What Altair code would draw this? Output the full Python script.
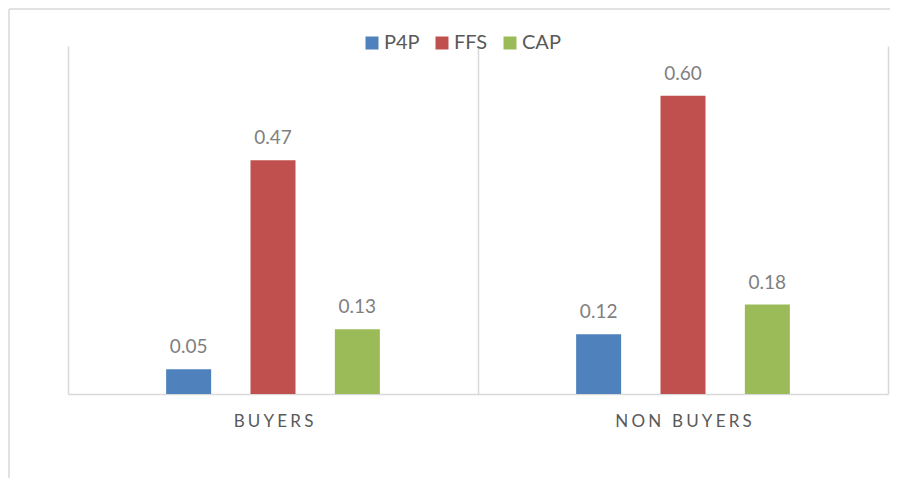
import altair as alt
import pandas as pd

categories = ["BUYERS", "NON BUYERS"]
series = ["P4P", "FFS", "CAP"]
p4p = [0.05, 0.12]
ffs = [0.47, 0.60]
cap = [0.13, 0.18]
colors = ["#4F81BD", "#C0504D", "#9BBB59"]

rows = []
for i, c in enumerate(categories):
    for s, vals in zip(series, [p4p, ffs, cap]):
        rows.append({"group": c, "series": s, "value": vals[i]})
df = pd.DataFrame(rows)

W, H = 820, 348
FONT = "Lato"

base = alt.Chart(df).encode(
    x=alt.X("group:N", sort=categories, title=None,
            scale=alt.Scale(paddingInner=0, paddingOuter=0),
            axis=alt.Axis(grid=True, tickBand="extent", ticks=False, labelAngle=0,
                          domainColor="#d9d9d9", domainWidth=1.5,
                          gridColor="#d9d9d9", gridWidth=1.5,
                          labelFont=FONT, labelFontSize=17, labelColor="#595959",
                          labelPadding=19,
                          labelExpr="join(split(datum.label, ''), '\u2009\u200a')")),
    xOffset=alt.XOffset("series:N", sort=series,
                        scale=alt.Scale(paddingInner=0, paddingOuter=0.93)),
    y=alt.Y("value:Q", scale=alt.Scale(domain=[0, 0.7]), axis=None),
)

bars = base.mark_bar(width=45).encode(
    color=alt.Color("series:N", sort=series,
                    scale=alt.Scale(domain=series, range=colors),
                    legend=alt.Legend(title=None, orient="none", direction="horizontal",
                                      legendX=294, legendY=-13,
                                      symbolType="square", symbolSize=169,
                                      symbolStrokeWidth=0, labelOffset=2,
                                      columnPadding=12, labelFont=FONT,
                                      labelFontSize=20, labelColor="#595959"))
)

labels = base.mark_text(baseline="alphabetic", dy=-16, font=FONT, fontSize=19,
                        color="#7f7f7f").encode(
    text=alt.Text("value:Q", format=".2f")
)

one = pd.DataFrame({"a": [0]})
border_left = alt.Chart(one).mark_rule(color="#d9d9d9", strokeWidth=1.5).encode(
    x=alt.value(-59), y=alt.value(-37), y2=alt.value(H + 84))
border_top = alt.Chart(one).mark_rule(color="#d9d9d9", strokeWidth=1.5).encode(
    x=alt.value(-59), x2=alt.value(W + 2), y=alt.value(-37))

chart = alt.layer(border_left, border_top, bars, labels).properties(
    width=W, height=H,
    autosize=alt.AutoSizeParams(type="none"),
    padding={"left": 60, "top": 38, "right": 2, "bottom": 84},
).configure_view(stroke=None)

chart.save("out.html", embed_options={"renderer": "svg", "actions": False})
